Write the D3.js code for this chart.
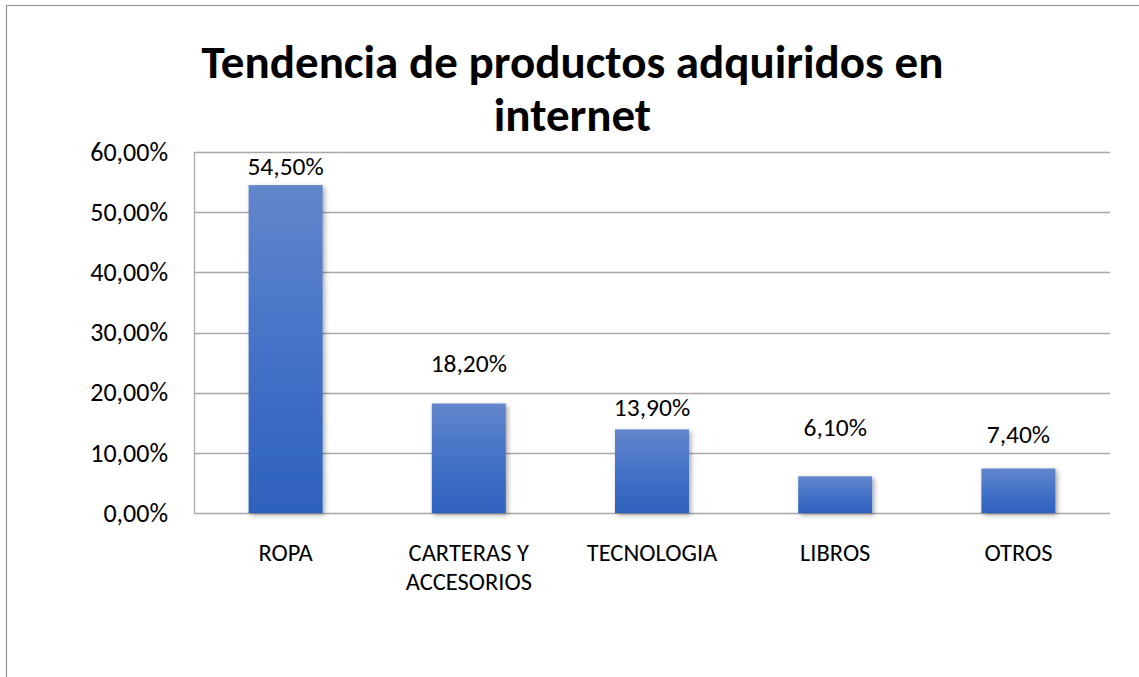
<!DOCTYPE html>
<html>
<head>
<meta charset="utf-8">
<script src="https://cdn.jsdelivr.net/npm/d3@7"></script>
<style>
  html, body { margin: 0; padding: 0; background: #fff; }
  svg { display: block; }
  text { font-family: Carlito, Lato, "Open Sans", sans-serif; fill: #000; }
</style>
</head>
<body>
<svg id="chart" width="1139" height="677"></svg>
<script>
// Data
const categories = ["ROPA", "CARTERAS Y ACCESORIOS", "TECNOLOGIA", "LIBROS", "OTROS"];
const categoryLines = [["ROPA"], ["CARTERAS Y", "ACCESORIOS"], ["TECNOLOGIA"], ["LIBROS"], ["OTROS"]];
const values = [54.5, 18.2, 13.9, 6.1, 7.4];
const valueLabels = ["54,50%", "18,20%", "13,90%", "6,10%", "7,40%"];
const yTicks = [0, 10, 20, 30, 40, 50, 60];
const yTickLabels = ["0,00%", "10,00%", "20,00%", "30,00%", "40,00%", "50,00%", "60,00%"];
const titleLines = ["Tendencia de productos adquiridos en", "internet"];

// Layout
const W = 1139, H = 677;
const plot = { left: 194, right: 1110, top: 152, bottom: 513 };
// how far each value label's baseline sits above its bar
const labelLift = [10, 31, 13, 40, 25];

const svg = d3.select("#chart");

// chart frame (top and left edges visible)
svg.append("path")
  .attr("d", `M6.5,${H} V5.5 H${W}`)
  .attr("fill", "none")
  .attr("stroke", "#8f8f8f")
  .attr("stroke-width", 1.2);

const x = d3.scaleBand()
  .domain(categories)
  .range([plot.left, plot.right])
  .paddingInner(0.596)
  .paddingOuter(0.298);

const y = d3.scaleLinear()
  .domain([0, 60])
  .range([plot.bottom, plot.top]);

// Defs: bar gradient and soft shadow
const defs = svg.append("defs");
const grad = defs.append("linearGradient")
  .attr("id", "barGrad")
  .attr("x1", 0).attr("y1", 0).attr("x2", 0).attr("y2", 1);
grad.append("stop").attr("offset", "0%").attr("stop-color", "#6386cb");
grad.append("stop").attr("offset", "50%").attr("stop-color", "#4472c8");
grad.append("stop").attr("offset", "100%").attr("stop-color", "#2e61bd");

const shadow = defs.append("filter")
  .attr("id", "barShadow")
  .attr("x", "-30%").attr("y", "-30%").attr("width", "160%").attr("height", "160%");
shadow.append("feDropShadow")
  .attr("dx", 2).attr("dy", 2)
  .attr("stdDeviation", 2.5)
  .attr("flood-color", "#000")
  .attr("flood-opacity", 0.35);

// Gridlines
svg.append("g")
  .selectAll("line")
  .data(yTicks)
  .join("line")
  .attr("x1", plot.left)
  .attr("x2", plot.right)
  .attr("y1", d => Math.round(y(d)) + 0.5)
  .attr("y2", d => Math.round(y(d)) + 0.5)
  .attr("stroke", "#a9a9a9")
  .attr("stroke-width", 1.3);

// Left axis line
svg.append("line")
  .attr("x1", plot.left + 0.5).attr("x2", plot.left + 0.5)
  .attr("y1", y(60)).attr("y2", y(0))
  .attr("stroke", "#a9a9a9")
  .attr("stroke-width", 1.3);

// Y axis labels
const yAxis = d3.axisLeft(y)
  .tickValues(yTicks)
  .tickFormat((d, i) => yTickLabels[i])
  .tickSize(0)
  .tickPadding(26);
const gy = svg.append("g")
  .attr("transform", `translate(${plot.left},0)`)
  .call(yAxis);
gy.select(".domain").remove();
gy.selectAll("text")
  .attr("font-family", "Carlito, Lato, 'Open Sans', sans-serif")
  .attr("font-size", 26)
  .attr("fill", "#000");

// Bars
svg.append("g")
  .selectAll("rect")
  .data(values)
  .join("rect")
  .attr("x", (d, i) => x(categories[i]))
  .attr("y", d => y(d))
  .attr("width", x.bandwidth())
  .attr("height", d => y(0) - y(d))
  .attr("fill", "url(#barGrad)")
  .attr("filter", "url(#barShadow)");

// Value labels
svg.append("g")
  .selectAll("text")
  .data(values)
  .join("text")
  .attr("x", (d, i) => x(categories[i]) + x.bandwidth() / 2)
  .attr("y", (d, i) => y(d) - labelLift[i])
  .attr("text-anchor", "middle")
  .attr("font-size", 25.5)
  .text((d, i) => valueLabels[i]);

// Category labels
const cat = svg.append("g")
  .selectAll("text")
  .data(categories)
  .join("text")
  .attr("x", d => x(d) + x.bandwidth() / 2)
  .attr("y", 561)
  .attr("text-anchor", "middle")
  .attr("font-size", 24.5);
cat.selectAll("tspan")
  .data((d, i) => categoryLines[i])
  .join("tspan")
  .attr("x", function () { return d3.select(this.parentNode).attr("x"); })
  .attr("dy", (d, j) => j === 0 ? 0 : 29)
  .text(d => d);

// Title, one text element per line
const title = svg.append("g")
  .attr("font-weight", "bold")
  .attr("font-size", 48)
  .attr("text-anchor", "middle");
title.selectAll("text")
  .data(titleLines)
  .join("text")
  .attr("x", 572.5)
  .attr("y", (d, j) => j === 0 ? 78 : 131)
  .text(d => d);

// Size the title so its first line spans about 742px
const firstLine = title.select("text").node();
const w = firstLine.getComputedTextLength();
if (w > 0) title.attr("font-size", 48 * 742 / w);
</script>
</body>
</html>
